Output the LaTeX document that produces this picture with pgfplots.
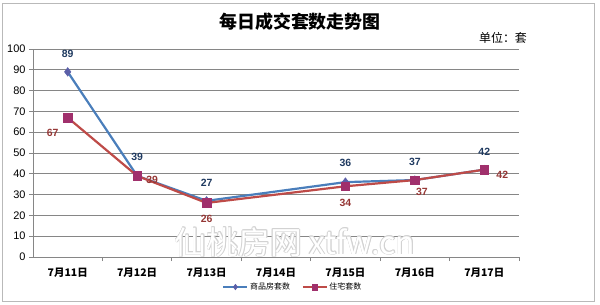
\documentclass[border=0pt]{standalone}
\usepackage{pgfplots}
\pgfplotsset{compat=1.18}
\usepackage{fontspec}
\setmainfont{Noto Sans CJK SC}
\newfontfamily\numfont{Liberation Sans}
\definecolor{blueline}{HTML}{4A7EBB}
\definecolor{redline}{HTML}{BE4B48}
\definecolor{bluemark}{HTML}{5B5FA8}
\definecolor{redmark}{HTML}{A0306C}
\definecolor{bluelab}{HTML}{1F3A60}
\definecolor{redlab}{HTML}{953735}
\definecolor{gridc}{HTML}{868686}
\begin{document}
\begin{tikzpicture}[x=1bp,y=1bp]
\path[use as bounding box] (0,0) rectangle (600,304);
\draw[gray!55, line width=0.8bp] (2,3) rectangle (594,301);
\node[font=\bfseries\fontsize{18}{20}\selectfont] at (300,282) {每日成交套数走势图};
\node[font=\fontsize{12}{14}\selectfont] at (503,266) {单位：套};
\begin{axis}[
  at={(33bp,47bp)}, anchor=south west,
  scale only axis, width=486bp, height=208bp,
  xmin=-0.5, xmax=6.5, ymin=0, ymax=100,
  axis lines=left, axis line style={-, draw=gridc, line width=0.8bp},
  xtick={0,...,6},
  xticklabels={7月11日,7月12日,7月13日,7月14日,7月15日,7月16日,7月17日},
  major x tick style={draw=none},
  minor xtick={0.5,1.5,...,6.5},
  minor x tick style={draw=gridc, line width=0.8bp},
  ytick={0,10,...,100},
  major y tick style={draw=gridc, line width=0.8bp},
  ymajorgrids, grid style={gridc, line width=0.8bp},
  tick align=outside, major tick length=4bp, minor tick length=4bp,
  xticklabel style={font=\bfseries\fontsize{10.5}{12}\selectfont, yshift=-3bp},
  yticklabel style={font=\numfont\fontsize{11}{12}\selectfont},
  /pgf/number format/assume math mode=true,
  clip=false,
  legend style={at={(axis description cs:0.535,0)}, anchor=center, yshift=-30bp,
    draw=none, fill=none, font=\fontsize{8}{9}\selectfont,
    /tikz/every even column/.append style={column sep=10bp}},
  legend columns=2,
  legend image code/.code={\draw[mark repeat=2,mark phase=2,#1,line width=1.5bp,mark size=2.8bp] plot coordinates {(0bp,0bp)(12bp,0bp)(24bp,0bp)};},
]
\addplot[blueline, line width=2.2bp, mark=diamond*, mark size=4.3bp, mark options={fill=bluemark, draw=bluemark, line width=0.5bp}]
  coordinates {(0,89)(1,39)(2,27)(4,36)(5,37)(6,42)};
\addlegendentry{商品房套数}
\addplot[redline, line width=2.2bp, mark=square*, mark size=4.2bp, mark options={fill=redmark, draw=redmark, line width=0.5bp}]
  coordinates {(0,67)(1,39)(2,26)(4,34)(5,37)(6,42)};
\addlegendentry{住宅套数}
% data labels
\begin{scope}[every node/.style={font=\numfont\bfseries\fontsize{10.5}{12}\selectfont}]
\node[text=bluelab, yshift=18bp] at (axis cs:0,89) {89};
\node[text=bluelab, yshift=19bp] at (axis cs:1,39) {39};
\node[text=bluelab, yshift=18bp] at (axis cs:2,27) {27};
\node[text=bluelab, yshift=19bp] at (axis cs:4,36) {36};
\node[text=bluelab, yshift=18bp] at (axis cs:5,37) {37};
\node[text=bluelab, yshift=18bp] at (axis cs:6,42) {42};
\node[text=redlab, xshift=-15bp, yshift=-15bp] at (axis cs:0,67) {67};
\node[text=redlab, xshift=15bp, yshift=-4bp] at (axis cs:1,39) {39};
\node[text=redlab, yshift=-16bp] at (axis cs:2,26) {26};
\node[text=redlab, yshift=-17bp] at (axis cs:4,34) {34};
\node[text=redlab, xshift=7bp, yshift=-12bp] at (axis cs:5,37) {37};
\node[text=redlab, xshift=18bp, yshift=-5bp] at (axis cs:6,42) {42};
\end{scope}
\end{axis}
% watermark (outlined)
\foreach \dx/\dy in {0.7/0,-0.7/0,0/0.7,0/-0.7,0.5/0.5,-0.5/-0.5,0.5/-0.5,-0.5/0.5}{
  \node[font=\fontsize{32}{34}\selectfont, text=gray!35] at (295+\dx,62+\dy) {仙桃房网 xtfw.cn};
}
\node[font=\fontsize{32}{34}\selectfont, text=white] at (295,62) {仙桃房网 xtfw.cn};
\end{tikzpicture}
\end{document}
